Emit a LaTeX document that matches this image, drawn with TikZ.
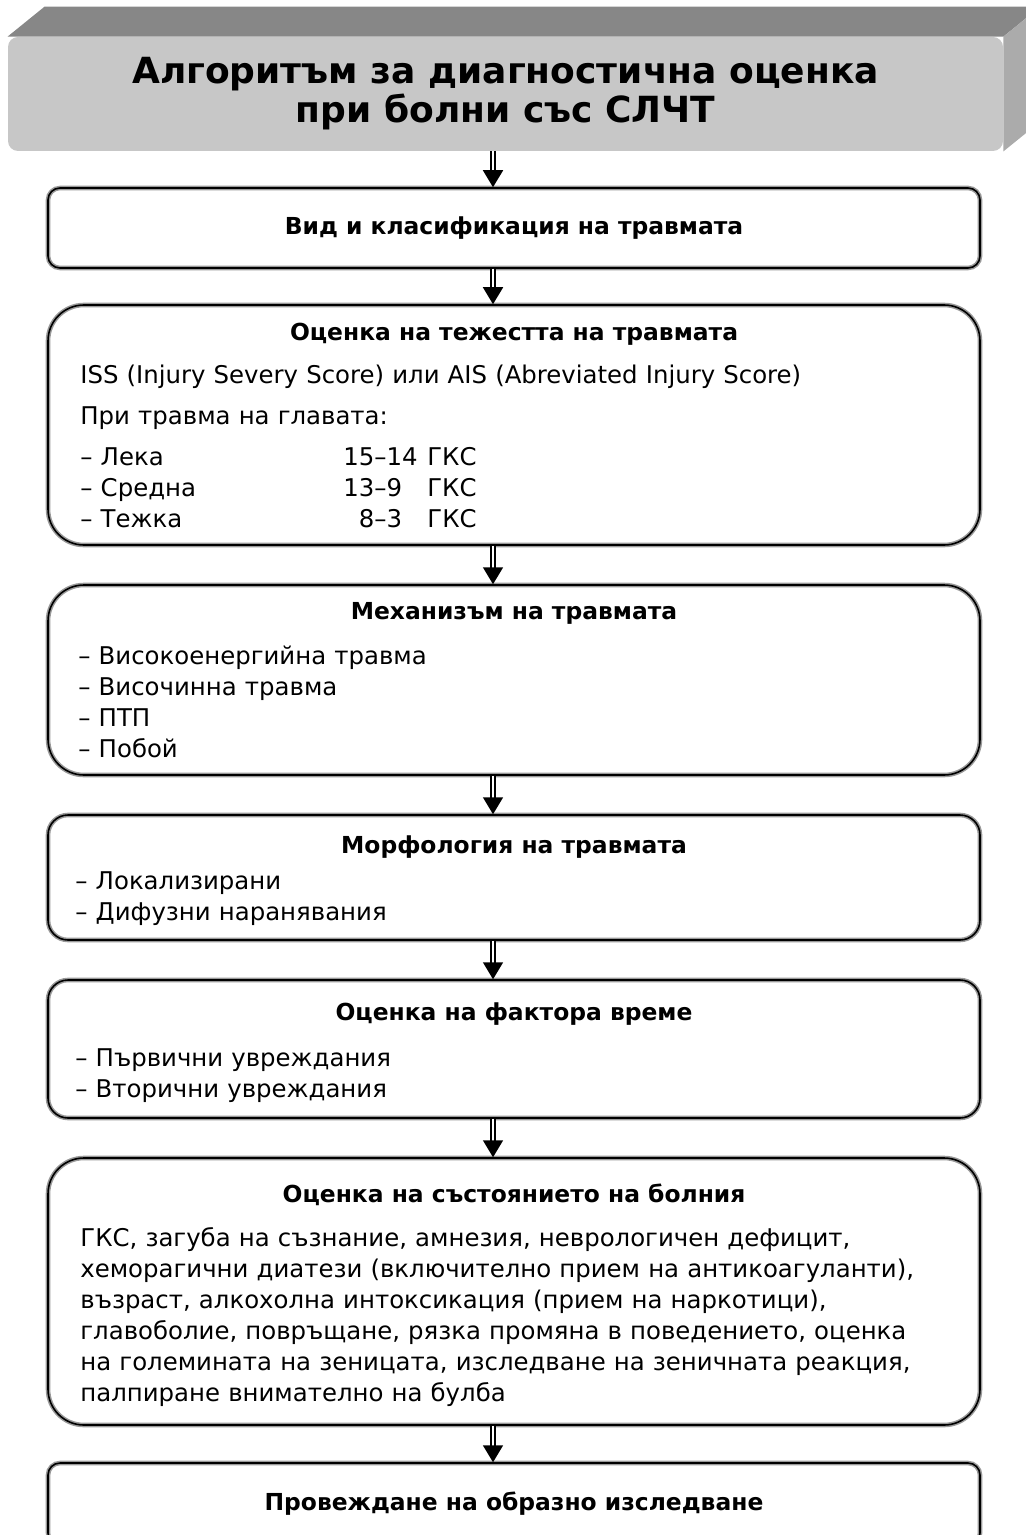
\documentclass[tikz,border=0pt]{standalone}
\usepackage{fontspec}
\setmainfont{DejaVu Sans}
\usetikzlibrary{arrows.meta,backgrounds}

\begin{document}
\begin{tikzpicture}[x=.5pt,y=-.5pt,
	box/.style={draw=black!40,line width=.75pt,double=black,double distance=.8pt,fill=white,minimum width=466pt,rounded corners=#1},
	box/.default=6pt,
	hdr/.style={fill=black!22,rounded corners=5pt,minimum width=497.5pt,minimum height=57pt,align=center,font=\fontsize{18}{19.5}\selectfont\bfseries},
	ttl/.style={anchor=base,inner sep=0pt,font=\fontsize{11.7}{13}\selectfont\bfseries},
	txt/.style={anchor=base west,inner sep=0pt,text width=440pt,align=left,font=\fontsize{12.2}{15.5}\selectfont},
	arr/.style={draw=black,line width=.8pt,double=white,double distance=1.2pt,-{Triangle[length=8.5pt,width=10pt]}}]
			\def\gks#1#2{\makebox[131.5pt][l]{#1}\makebox[42pt][l]{#2}ГКС}%red bang GKS
			\useasboundingbox (0,0) rectangle (1025,1535);
			\clip (0,0) rectangle (1025,1535);
			\coordinate (ax) at (493,0);%truc mui ten
			%tieu de
			\node[hdr] (hdr) at (505.5,94) {Алгоритъм за диагностична оценка\\при болни със СЛЧТ};
			\begin{scope}[on background layer]
				\fill[black!47] (hdr.north west) -- ++(37,-30) -- ([shift={(37,-30)}]hdr.north east) -- (hdr.north east) -- cycle;
				\fill[black!33] (hdr.north east) -- ++(37,-30) -- ([shift={(37,-30)}]hdr.south east) -- (hdr.south east) -- cycle;
			\end{scope}
			%cac khung
			\node[box,minimum height=40pt,font=\fontsize{11.7}{13}\selectfont\bfseries] (vid) at (514,228) {Вид и класификация на травмата};
			\node[box=18pt,minimum height=120pt] (tezh) at (514,425) {};
			\node[ttl] (tezhT) at (514,341) {Оценка на тежестта на травмата};
			\node[txt] (tezhA) at (80,384) {ISS (Injury Severy Score) или AIS (Abreviated Injury Score)};
			\node[txt] (tezhB) at (80,424) {При травма на главата:};
			\node[txt] (tezhC) at (80,465) {\gks{– Лека}{15–14}\\\gks{– Средна}{13–9}\\\gks{– Тежка}{\phantom{1}8–3}};
			\node[box=18pt,minimum height=95pt] (meh) at (514,680) {};
			\node[ttl] (mehT) at (514,619) {Механизъм на травмата};
			\node[txt] (mehA) at (78,664) {– Високоенергийна травма\\– Височинна травма\\– ПТП\\– Побой};
			\node[box=10pt,minimum height=62.5pt] (morf) at (514,877.5) {};
			\node[ttl] (morfT) at (514,853) {Морфология на травмата};
			\node[txt] (morfA) at (75,889) {– Локализирани\\– Дифузни наранявания};
			\node[box=10pt,minimum height=69pt] (vreme) at (514,1049) {};
			\node[ttl] (vremeT) at (514,1020) {Оценка на фактора време};
			\node[txt] (vremeA) at (75,1066) {– Първични увреждания\\– Вторични увреждания};
			\node[box=18pt,minimum height=133.5pt] (sast) at (514,1291.5) {};
			\node[ttl] (sastT) at (514,1202) {Оценка на състоянието на болния};
			\node[txt] (sastA) at (80,1246) {ГКС, загуба на съзнание, амнезия, неврологичен дефицит,\\хеморагични диатези (включително прием на антикоагуланти),\\възраст, алкохолна интоксикация (прием на наркотици),\\главоболие, повръщане, рязка промяна в поведението, оценка\\на големината на зеницата, изследване на зеничната реакция,\\палпиране внимателно на булба};
			\node[box,minimum height=41pt,font=\fontsize{11.7}{13}\selectfont\bfseries] (obraz) at (514,1504) {Провеждане на образно изследване};
			%mui ten
			\foreach \a/\b in {hdr/vid,vid/tezh,tezh/meh,meh/morf,morf/vreme,vreme/sast,sast/obraz}
			\draw[arr] (\a.south -| ax) -- (\b.north -| ax);
		\end{tikzpicture}
\end{document}
